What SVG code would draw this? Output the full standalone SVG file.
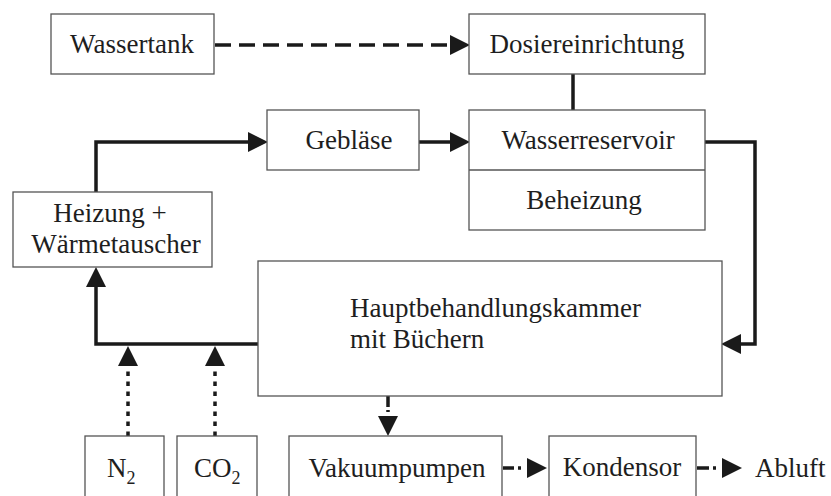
<svg xmlns="http://www.w3.org/2000/svg" width="831" height="496" viewBox="0 0 831 496">
<style>
.box{fill:#fff;stroke:#555;stroke-width:1.3}
.t{font-family:"Liberation Serif","Times New Roman",serif;font-size:27px;fill:#1e1e1e}
.c{text-anchor:middle}
.ln{fill:none;stroke:#1a1a1a;stroke-width:3.5}
.dash{stroke-dasharray:16 8}
.dot{stroke-dasharray:4.5 5.5}
</style>
<defs>
<marker id="ah" markerUnits="userSpaceOnUse" markerWidth="20" markerHeight="20" refX="0" refY="9.5" orient="auto" viewBox="0 0 19 19">
<path d="M0,0 L19,9.5 L0,19 z" fill="#1a1a1a"/>
</marker>
</defs>
<rect width="831" height="496" fill="#fff"/>
<g id="connectors">
<line class="ln dash" x1="215" y1="45" x2="450" y2="45" marker-end="url(#ah)"/>
<line class="ln" x1="573" y1="74" x2="573" y2="110"/>
<path class="ln" d="M96,192 V142 H248" marker-end="url(#ah)"/>
<path class="ln" d="M419,142 H450" marker-end="url(#ah)"/>
<path class="ln" d="M705,142 H755 V344 H741" marker-end="url(#ah)"/>
<path class="ln" d="M258,344 H96 V287" marker-end="url(#ah)"/>
<line class="ln dot" x1="128" y1="436" x2="128" y2="366" marker-end="url(#ah)"/>
<line class="ln dot" x1="215" y1="436" x2="215" y2="366" marker-end="url(#ah)"/>
<path class="ln" d="M388,396 V407 M388,410 V412"/>
<path class="ln" d="M388,414 V416" stroke-opacity="0" marker-end="url(#ah)"/>
<path class="ln" d="M503,468 H514 M518,468 H521"/>
<path class="ln" d="M526,468 H527" stroke-opacity="0" marker-end="url(#ah)"/>
<path class="ln" d="M697,468 H709 M713,468 H716"/>
<path class="ln" d="M721,468 H722" stroke-opacity="0" marker-end="url(#ah)"/>
</g>
<g id="wassertank">
<rect class="box" x="51" y="14" width="163" height="60"/>
<text class="t c" x="132" y="53">Wassertank</text>
</g>
<g id="dosiereinrichtung">
<rect class="box" x="469" y="14" width="236" height="60"/>
<text class="t c" x="587" y="53">Dosiereinrichtung</text>
</g>
<g id="geblaese">
<rect class="box" x="267" y="110" width="152" height="60"/>
<text class="t c" x="349" y="149">Gebläse</text>
</g>
<g id="wasserreservoir">
<rect class="box" x="469" y="110" width="236" height="120"/>
<line x1="469" y1="170" x2="705" y2="170" stroke="#555" stroke-width="1.3"/>
<text class="t c" x="588" y="149">Wasserreservoir</text>
<text class="t c" x="584" y="209">Beheizung</text>
</g>
<g id="heizung">
<rect class="box" x="13" y="192" width="199" height="75"/>
<text class="t c" x="110" y="222">Heizung +</text>
<text class="t c" x="116" y="253">Wärmetauscher</text>
</g>
<g id="hauptbehandlungskammer">
<rect class="box" x="258" y="261" width="464" height="135"/>
<text class="t" x="350" y="317">Hauptbehandlungskammer</text>
<text class="t" x="350" y="348">mit Büchern</text>
</g>
<g id="n2">
<rect class="box" x="85" y="436" width="79" height="70"/>
<text class="t" x="107" y="477">N<tspan font-size="18" dy="7">2</tspan></text>
</g>
<g id="co2">
<rect class="box" x="177" y="436" width="80" height="70"/>
<text class="t" x="194" y="477">CO<tspan font-size="18" dy="7">2</tspan></text>
</g>
<g id="vakuumpumpen">
<rect class="box" x="289" y="436" width="213" height="70"/>
<text class="t c" x="397" y="477">Vakuumpumpen</text>
</g>
<g id="kondensor">
<rect class="box" x="549" y="436" width="147" height="70"/>
<text class="t c" x="622" y="476">Kondensor</text>
</g>
<g id="abluft">
<text class="t" x="755" y="477">Abluft</text>
</g>
</svg>
